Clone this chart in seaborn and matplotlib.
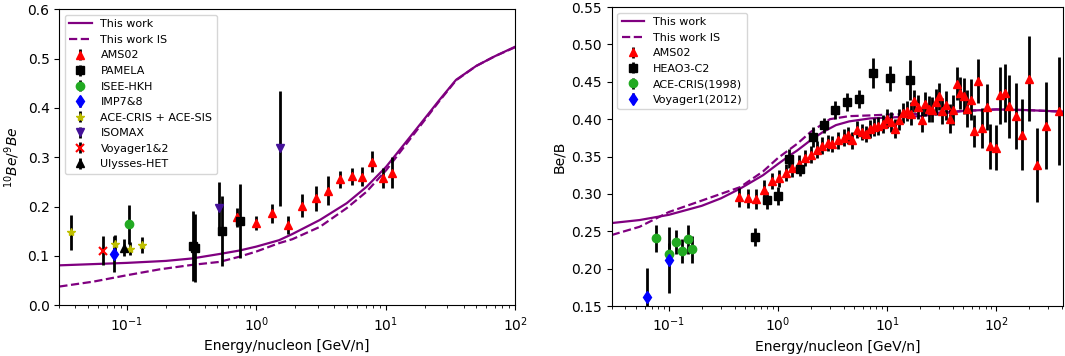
import numpy as np
import pandas as pd
import matplotlib
matplotlib.use("Agg")
import matplotlib.pyplot as plt
import seaborn as sns

# ---------------- Left panel: 10Be/9Be ----------------
model_x_l = [0.03, 0.1, 0.2, 0.32, 0.52, 0.74, 1.0, 1.5, 1.9, 3.1, 5.0, 7.1, 10.1, 16.3, 26, 35, 50, 70, 100]
model_y_l = [0.081, 0.086, 0.090, 0.095, 0.104, 0.111, 0.119, 0.132, 0.1445, 0.173, 0.207, 0.240, 0.281, 0.349, 0.416, 0.457, 0.485, 0.505, 0.524]
modelIS_x_l = [0.03, 0.055, 0.1, 0.18, 0.32, 0.52, 0.74, 1.0, 1.5, 1.9, 3.1, 5.0, 7.1, 10.1, 16.3, 26, 35, 50, 70, 100]
modelIS_y_l = [0.038, 0.048, 0.061, 0.073, 0.082, 0.088, 0.0985, 0.109, 0.126, 0.134, 0.159, 0.197, 0.230, 0.274, 0.345, 0.414, 0.456, 0.485, 0.505, 0.523]

ams_x_l = [0.708, 1.0, 1.33, 1.76, 2.27, 2.88, 3.61, 4.47, 5.47, 6.61, 7.85, 9.5, 11.2]
ams_y_l = [0.178, 0.1675, 0.1865, 0.163, 0.202, 0.217, 0.232, 0.2554, 0.262, 0.261, 0.291, 0.2575, 0.269]
ams_e_l = [0.02, 0.0145, 0.0196, 0.019, 0.023, 0.025, 0.0297, 0.0176, 0.0172, 0.019, 0.0213, 0.0203, 0.032]

pam_x = [0.323, 0.337, 0.542, 0.743]
pam_y = [0.1208, 0.1155, 0.1506, 0.171]
pam_e = [0.071, 0.069, 0.0716, 0.075]

isee_x = [0.1037]
isee_y = [0.164]
isee_e = [0.039]

imp_x = [0.0796]
imp_y = [0.104]
imp_e = [0.037]

ace_x_l = [0.0367, 0.0805, 0.106, 0.130]
ace_y_l = [0.148, 0.1236, 0.115, 0.122]
ace_e_l = [0.036, 0.018, 0.013, 0.016]

iso_x = [0.514, 1.514]
iso_y = [0.1966, 0.318]
iso_e = [0.053, 0.117]

voy_x_l = [0.0656]
voy_y_l = [0.111]
voy_e_l = [0.03]

uly_x = [0.0953]
uly_y = [0.117]
uly_e = [0.017]

# ---------------- Right panel: Be/B ----------------
model_x_r = [0.03, 0.054, 0.1, 0.2, 0.3, 0.45, 0.73, 1.0, 1.3, 1.5, 2.0, 2.6, 3.4, 4.5, 7.0, 10, 20, 50, 100, 200, 410]
model_y_r = [0.261, 0.265, 0.272, 0.284, 0.294, 0.307, 0.325, 0.340, 0.352, 0.358, 0.372, 0.383, 0.392, 0.397, 0.401, 0.402, 0.404, 0.411, 0.413, 0.412, 0.410]
modelIS_x_r = [0.03, 0.054, 0.1, 0.2, 0.3, 0.45, 0.73, 1.0, 1.5, 2.0, 3.0, 4.5, 7.0, 10, 20, 50, 100, 200, 410]
modelIS_y_r = [0.245, 0.256, 0.2757, 0.291, 0.300, 0.309, 0.330, 0.348, 0.367, 0.383, 0.400, 0.404, 0.405, 0.406, 0.407, 0.411, 0.413, 0.412, 0.410]

ams_x_r = [0.439, 0.531, 0.634, 0.744, 0.889, 1.02, 1.177, 1.355, 1.56, 1.78, 2.0, 2.28, 2.55, 2.86,
           3.15, 3.58, 4.0, 4.42, 4.81, 5.30, 5.85, 6.37, 6.94, 7.66, 8.33, 9.18, 9.99, 10.87, 11.85,
           12.9, 14.0, 15.1, 16.4, 17.6, 19.1, 20.7, 22.3, 24.2, 26.0, 28.0, 30.0, 32.2, 34.6, 37.6,
           40.3, 43.3, 46.4, 50.4, 54.2, 58.3, 62.6, 68.0, 74.1, 81.8, 88.0, 98.8, 108, 119.6, 131.7,
           151.6, 171.6, 198.1, 235, 284, 373]
ams_y_r = [0.2952, 0.2939, 0.2929, 0.305, 0.3174, 0.3206, 0.3286, 0.334, 0.3406, 0.3478, 0.3526, 0.3593,
           0.3647, 0.3682, 0.3664, 0.3717, 0.3753, 0.3784, 0.3717, 0.386, 0.3828, 0.3798, 0.3874, 0.3895,
           0.3904, 0.394, 0.4007, 0.3962, 0.3874, 0.3994, 0.4082, 0.4109, 0.4074, 0.4242, 0.4162, 0.3994,
           0.4198, 0.4136, 0.4127, 0.4229, 0.4305, 0.4109, 0.4185, 0.4007, 0.4127, 0.4475, 0.435, 0.4305,
           0.4141, 0.4261, 0.3842, 0.451, 0.3878, 0.4162, 0.3637, 0.362, 0.4319, 0.435, 0.4172, 0.4047,
           0.3794, 0.4542, 0.3387, 0.3914, 0.4109]
ams_e_r = [0.013, 0.013, 0.013, 0.013, 0.011, 0.011, 0.011, 0.011, 0.011, 0.011, 0.011, 0.011, 0.011, 0.011,
           0.011, 0.011, 0.011, 0.011, 0.011, 0.011, 0.011, 0.011, 0.012, 0.012, 0.012, 0.012, 0.013, 0.013, 0.013,
           0.014, 0.014, 0.014, 0.015, 0.015, 0.016, 0.016, 0.016, 0.017, 0.017, 0.018, 0.018, 0.018, 0.019, 0.019,
           0.020, 0.022, 0.022, 0.024, 0.025, 0.027, 0.022, 0.029, 0.027, 0.031, 0.030, 0.030, 0.038, 0.039, 0.042,
           0.044, 0.047, 0.057, 0.050, 0.058, 0.072]

heao_x = [0.621, 0.80, 1.0, 1.25, 1.60, 2.09, 2.65, 3.36, 4.30, 5.57, 7.50, 10.6, 16.1]
heao_y = [0.2422, 0.2914, 0.2977, 0.3473, 0.3335, 0.376, 0.392, 0.4118, 0.4225, 0.4265, 0.4623, 0.4547, 0.4525]
heao_e = [0.012, 0.011, 0.012, 0.013, 0.010, 0.013, 0.010, 0.012, 0.012, 0.012, 0.020, 0.017, 0.027]

ace_x_r = [0.0766, 0.0994, 0.117, 0.133, 0.149, 0.164]
ace_y_r = [0.2408, 0.2195, 0.2359, 0.2239, 0.2391, 0.2257]
ace_e_r = [0.018, 0.015, 0.016, 0.016, 0.019, 0.018]

voy_x_r = [0.0633, 0.1]
voy_y_r = [0.1624, 0.2114]
voy_e_r = [0.038, 0.044]

# ---------------- Figure ----------------
plt.rcParams['font.family'] = ['DejaVu Sans']
fig = plt.figure(figsize=(10.65, 3.56), dpi=100)
axL = fig.add_axes([0.0557, 0.1424, 0.4279, 0.8315])
axR = fig.add_axes([0.5744, 0.1404, 0.4238, 0.8399])

LW = 1.6
eb_kw = dict(ls='none', ecolor='k', elinewidth=2, capsize=0, ms=6)


def draw_models(ax, mx, my, ix, iy):
    sns.lineplot(data=pd.DataFrame({'E': mx, 'R': my}), x='E', y='R', ax=ax,
                 color='purple', lw=LW, label='This work', sort=True)
    sns.lineplot(data=pd.DataFrame({'E': ix, 'R': iy}), x='E', y='R', ax=ax,
                 color='purple', lw=LW, ls='--', label='This work IS', sort=True)


# Left
draw_models(axL, model_x_l, model_y_l, modelIS_x_l, modelIS_y_l)
axL.errorbar(ams_x_l, ams_y_l, yerr=ams_e_l, fmt='^', color='red', label='AMS02', **eb_kw)
axL.errorbar(pam_x, pam_y, yerr=pam_e, fmt='s', color='k', label='PAMELA', **eb_kw)
axL.errorbar(isee_x, isee_y, yerr=isee_e, fmt='o', color='#22aa22', label='ISEE-HKH', **eb_kw)
axL.errorbar(imp_x, imp_y, yerr=imp_e, fmt='d', color='blue', label='IMP7&8', **eb_kw)
axL.errorbar(ace_x_l, ace_y_l, yerr=ace_e_l, fmt='*', color='y', label='ACE-CRIS + ACE-SIS', **eb_kw)
axL.errorbar(iso_x, iso_y, yerr=iso_e, fmt='v', color='#441199', label='ISOMAX', **eb_kw)
axL.errorbar(voy_x_l, voy_y_l, yerr=voy_e_l, fmt='x', color='red', mew=1.5, label='Voyager1&2', **eb_kw)
axL.errorbar(uly_x, uly_y, yerr=uly_e, fmt='^', color='k', label='Ulysses-HET', **eb_kw)

axL.set_xscale('log')
axL.set_xlim(0.03, 100)
axL.set_ylim(0.0, 0.6)
axL.set_yticks(np.arange(0, 0.61, 0.1))
axL.set_xlabel('Energy/nucleon [GeV/n]', fontsize=10)
axL.set_ylabel(r'$^{10}Be/^{9}Be$', fontsize=10)
axL.legend(loc='upper left', fontsize=8)

# Right
draw_models(axR, model_x_r, model_y_r, modelIS_x_r, modelIS_y_r)
axR.errorbar(ams_x_r, ams_y_r, yerr=ams_e_r, fmt='^', color='red', label='AMS02', **eb_kw)
axR.errorbar(heao_x, heao_y, yerr=heao_e, fmt='s', color='k', label='HEAO3-C2', **eb_kw)
axR.errorbar(ace_x_r, ace_y_r, yerr=ace_e_r, fmt='o', color='#22aa22', label='ACE-CRIS(1998)', **eb_kw)
axR.errorbar(voy_x_r, voy_y_r, yerr=voy_e_r, fmt='d', color='blue', label='Voyager1(2012)', **eb_kw)

axR.set_xscale('log')
axR.set_xlim(0.03, 410)
axR.set_ylim(0.15, 0.55)
axR.set_yticks(np.arange(0.15, 0.551, 0.05))
axR.set_yticklabels([f'{v:.2f}' for v in np.arange(0.15, 0.551, 0.05)])
axR.set_xlabel('Energy/nucleon [GeV/n]', fontsize=10)
axR.set_ylabel('Be/B', fontsize=10)
axR.legend(loc='upper left', fontsize=8)

for ax in (axL, axR):
    ax.tick_params(labelsize=10)

fig.savefig('out.png', dpi=100)
